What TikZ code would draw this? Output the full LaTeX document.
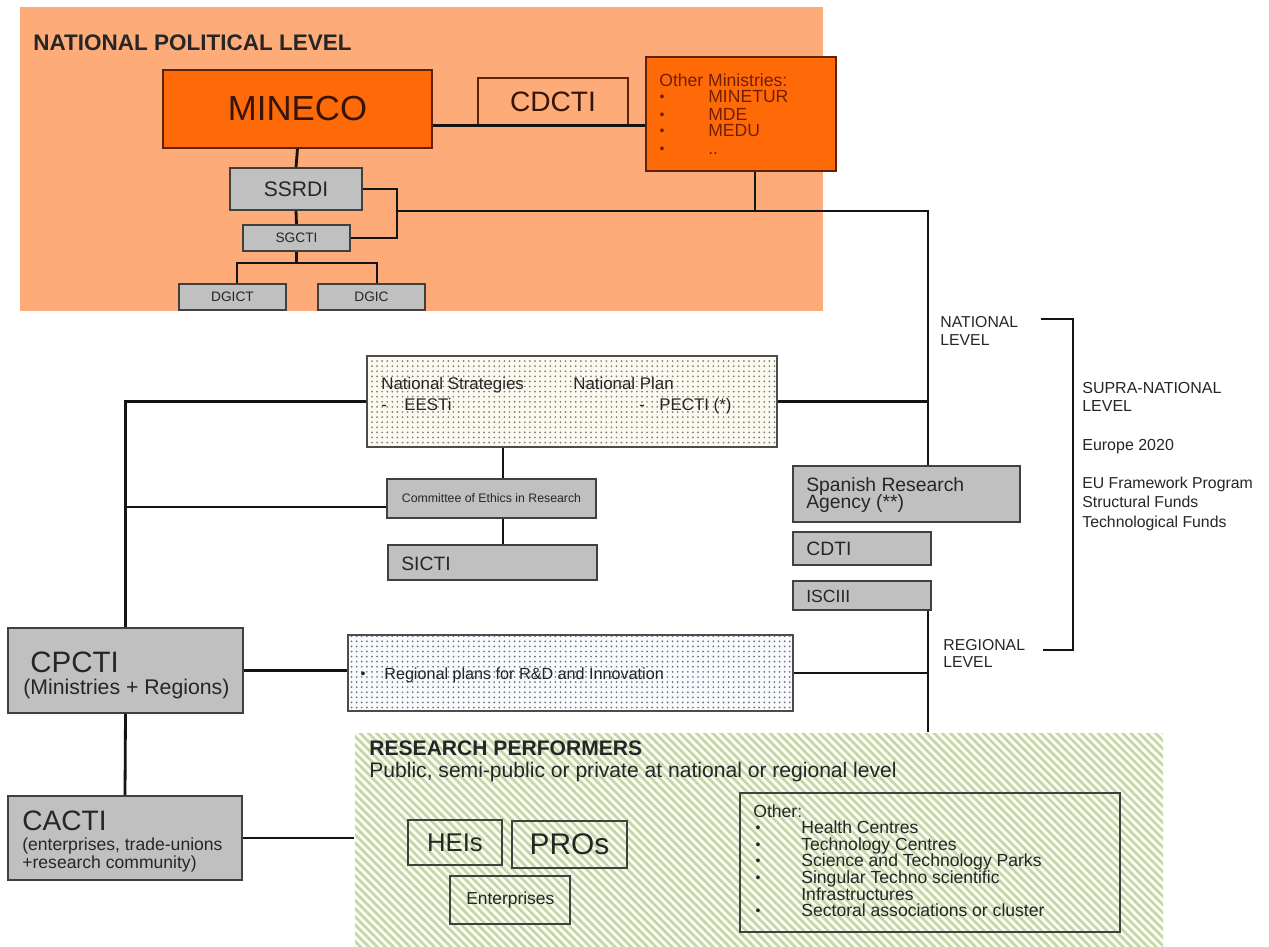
\documentclass[tikz,border=0pt]{standalone}
\usepackage{fontspec}
\setmainfont{Liberation Sans}
\usetikzlibrary{fit,calc,patterns,patterns.meta}
\definecolor{bgorange}{RGB}{252,171,121}
\definecolor{orangeD}{RGB}{255,106,8}
\definecolor{obord}{RGB}{95,35,10}
\definecolor{boxgray}{RGB}{192,192,192}
\definecolor{darkred}{RGB}{115,30,0}
\definecolor{minetxt}{RGB}{55,20,8}
\definecolor{txt}{RGB}{38,38,38}
\definecolor{beige}{RGB}{251,249,240}
\definecolor{dotgray}{RGB}{125,125,115}
\definecolor{dotblue}{RGB}{105,110,125}
\definecolor{paleblue}{RGB}{248,250,253}
\definecolor{hatchgreen}{RGB}{196,214,164}
\definecolor{palegreen}{RGB}{251,252,246}
\newcommand{\myfs}[2]{\fontsize{#1pt}{#2pt}\selectfont}
\begin{document}
\begin{tikzpicture}[x=0.02cm,y=-0.02cm,
  conn/.style={line width=1.6pt, draw=black!92},
  gbox/.style={inner sep=0pt, draw=black!75, line width=0.9pt, fill=boxgray},
  obox/.style={inner sep=0pt, draw=obord, line width=0.8pt, fill=orangeD},
  wbox/.style={inner sep=0pt, draw=black!75, line width=1pt},
  txtn/.style={inner sep=0pt, anchor=base west, text=txt},
  ctext/.style={inner sep=0pt, anchor=center, text=txt},
  bul/.style={inner sep=0pt, text=txt, font=\myfs{8}{8}},
]
\useasboundingbox (0,0) rectangle (1269,947);
\fill[white] (0,0) rectangle (1269,947);

% ---------- national political level ----------
\node[inner sep=0pt, fill=bgorange, fit={(20,7) (823,311)}] (npl) {};
\node[txtn, font=\bfseries\myfs{12.8}{14}] (npltitle) at (33,50) {NATIONAL POLITICAL LEVEL};
\node[obox, fit={(163,70) (432,148)}] (mineco) {};
\node[ctext, text=minetxt, font=\myfs{19.8}{22}] (minecot) at (mineco.center) {MINECO};
\node[obox, fill=bgorange, fit={(478,78) (628,125)}] (cdcti) {};
\node[ctext, text=minetxt, font=\myfs{16}{18}] (cdctit) at (cdcti.center) {CDCTI};
\node[obox, fit={(646,57) (836,171)}] (othm) {};
\node[txtn, text=darkred, font=\myfs{10}{12}] (om0) at (659,86) {Other Ministries:};
\foreach \n/\y/\s in {1/102/MINETUR, 2/120/MDE, 3/136/MEDU, 4/154/..} {
  \node[bul, text=darkred] (omb\n) at (662,\y-4) {\textbullet};
  \node[txtn, text=darkred, font=\myfs{10}{12}] (om\n) at (708,\y) {\s};
}
\node[gbox, fit={(230,168) (362,210)}] (ssrdi) {};
\node[ctext, font=\myfs{12}{14}] (ssrdit) at (ssrdi.center) {SSRDI};
\node[gbox, fit={(243,225) (350,251)}] (sgcti) {};
\node[ctext, font=\myfs{7.8}{9}] (sgctit) at (sgcti.center) {SGCTI};
\node[gbox, fit={(179,284) (286,310)}] (dgict) {};
\node[ctext, font=\myfs{7.8}{9}] (dgictt) at (dgict.center) {DGICT};
\node[gbox, fit={(318,284) (425,310)}] (dgic) {};
\node[ctext, font=\myfs{7.8}{9}] (dgict2) at (dgic.center) {DGIC};

% ---------- national strategies ----------
\node[inner sep=0pt, draw=black!70, line width=0.9pt, preaction={fill=beige},
      pattern={Dots[distance=2.9pt, radius=0.55pt]}, pattern color=dotgray,
      fit={(367,356) (777,447)}] (nat) {};
\node[txtn, font=\myfs{9.6}{11}] (nat1) at (381,389) {National Strategies};
\node[txtn, font=\myfs{9.6}{11}] (nat2) at (381,410) {-};
\node[txtn, font=\myfs{9.6}{11}] (nat3) at (404,410) {EESTi};
\node[txtn, font=\myfs{9.6}{11}] (nat4) at (573,389) {National Plan};
\node[txtn, font=\myfs{9.6}{11}] (nat5) at (639,410) {-};
\node[txtn, font=\myfs{9.6}{11}] (nat6) at (659,410) {PECTI (*)};

\node[gbox, fit={(387,479) (596,518)}] (comm) {};
\node[ctext, font=\myfs{7}{8}] (commt) at (comm.center) {Committee of Ethics in Research};
\node[gbox, fit={(388,545) (597,580)}] (sicti) {};
\node[txtn, font=\myfs{11}{12}] (sictit) at (401,570) {SICTI};

\node[gbox, fit={(793,466) (1020,522)}] (sra) {};
\node[txtn, font=\myfs{11}{12}] (sra1) at (806,491) {Spanish Research};
\node[txtn, font=\myfs{11}{12}] (sra2) at (806,508) {Agency (**)};
\node[gbox, fit={(793,532) (931,565)}] (cdti) {};
\node[txtn, font=\myfs{11}{12}] (cdtit) at (806,555) {CDTI};
\node[gbox, fit={(793,581) (931,610)}] (isciii) {};
\node[txtn, font=\myfs{10}{12}] (isciiit) at (806,602) {ISCIII};

% ---------- regional ----------
\node[inner sep=0pt, draw=black!70, line width=0.9pt, preaction={fill=paleblue},
      pattern={Dots[distance=2.9pt, radius=0.55pt]}, pattern color=dotblue,
      fit={(348,635) (793,711)}] (reg) {};
\node[bul] (regb) at (363,675) {\textbullet};
\node[txtn, font=\myfs{9.2}{11}] (regt) at (384,679) {Regional plans for R\&D and Innovation};

\node[gbox, fit={(8,628) (243,713)}] (cpcti) {};
\node[txtn, font=\myfs{16.8}{18}] (cpcti1) at (30,672) {CPCTI};
\node[txtn, font=\myfs{12.1}{14}] (cpcti2) at (23,694) {(Ministries + Regions)};

\node[gbox, fit={(8,796) (242,880)}] (cacti) {};
\node[txtn, font=\myfs{16}{18}] (cacti1) at (22,830) {CACTI};
\node[inner sep=0pt, anchor=north west, text=txt, align=left, font=\myfs{10}{8.6}] (cacti2) at (22,837) {(enterprises, trade-unions\\+research community)};

% ---------- research performers ----------
\node[inner sep=0pt, preaction={fill=palegreen},
      pattern={Lines[angle=-45, distance=3.3pt, line width=1.5pt]}, pattern color=hatchgreen,
      fit={(355,733) (1163,947)}] (rp) {};
\node[txtn, font=\bfseries\myfs{12}{14}] (rp1) at (369,755) {RESEARCH PERFORMERS};
\node[txtn, font=\myfs{12}{14}] (rp2) at (369,777) {Public, semi-public or private at national or regional level};
\node[wbox, fit={(408,820) (502,865)}] (heis) {};
\node[ctext, font=\myfs{14.6}{16}] (heist) at (heis.center) {HEIs};
\node[wbox, fit={(512,821) (627,868)}] (pros) {};
\node[ctext, font=\myfs{17}{19}] (prost) at (pros.center) {PROs};
\node[wbox, fit={(450,876) (570,924)}] (ent) {};
\node[txtn, font=\myfs{9.9}{12}] (entt) at (466,904) {Enterprises};
\node[wbox, fit={(740,793) (1120,932)}] (oth) {};
\node[txtn, font=\myfs{10}{12}] (oth0) at (753,817) {Other:};
\foreach \n/\y/\s in {1/833/Health Centres, 2/850/Technology Centres, 3/866/Science and Technology Parks, 4/883/Singular Techno scientific, 6/916/Sectoral associations or cluster} {
  \node[bul] (othb\n) at (758,\y-4) {\textbullet};
  \node[txtn, font=\myfs{10}{12}] (oth\n) at (801,\y) {\s};
}
\node[txtn, font=\myfs{10}{12}] (oth5) at (801,900) {Infrastructures};

% ---------- right side ----------
\node[txtn, font=\myfs{9}{10}] (nl1) at (940,327) {NATIONAL};
\node[txtn, font=\myfs{9}{10}] (nl2) at (940,345) {LEVEL};
\node[txtn, font=\myfs{9}{10}] (rl1) at (943,650) {REGIONAL};
\node[txtn, font=\myfs{9}{10}] (rl2) at (943,667) {LEVEL};
\node[txtn, font=\myfs{9.1}{10}] (sn1) at (1082,393) {SUPRA-NATIONAL};
\node[txtn, font=\myfs{9.1}{10}] (sn2) at (1082,411) {LEVEL};
\node[txtn, font=\myfs{9.1}{12}] (eu0) at (1082,450) {Europe 2020};
\node[txtn, font=\myfs{9}{12}] (eu1) at (1082,488) {EU Framework Program};
\node[txtn, font=\myfs{9}{12}] (eu2) at (1082,507) {Structural Funds};
\node[txtn, font=\myfs{9}{12}] (eu3) at (1082,527) {Technological Funds};

% ---------- connectors ----------
\coordinate (j1) at (397,211);
\coordinate (j2) at (928,211);
\coordinate (omd) at (755,211);
\coordinate (k2) at (237,263);
\coordinate (k3) at (377,263);
\coordinate (c1) at (503,0);
\coordinate (c2) at (125,507);
\draw[conn] (mineco.east |- cdcti.south) -- (othm.west |- cdcti.south);
\draw[conn] (mineco.south) -- (ssrdi.north);
\draw[conn] (ssrdi.south) -- (sgcti.north);
\draw[conn] (ssrdi.east) -| (j1) |- (sgcti.east);
\draw[conn] (j1) -- (j2) -- (j2 |- sra.north);
\draw[conn] (omd |- othm.south) -- (omd);
\draw[conn] (sgcti.south) -- (sgcti.south |- k2);
\draw[conn] (k2 |- dgict.north) -- (k2) -- (k3) -- (k3 |- dgic.north);
\draw[conn] (nat.east) -- (nat.east -| j2);
\draw[conn] (nat.west) -- (nat.west -| cpcti.north) -- (cpcti.north);
\draw[conn] (nat.south -| c1) -- (comm.north -| c1);
\draw[conn] (comm.south -| c1) -- (sicti.north -| c1);
\draw[conn] (c2 -| comm.west) -- (c2);
\draw[conn] (cpcti.east) -- (cpcti.east -| reg.west);
\draw[conn] (reg.east) -- (reg.east -| j2);
\draw[conn] (isciii.south -| j2) -- (rp.north -| j2);
\draw[conn] (cpcti.south) -- (cacti.north);
\draw[conn] (cacti.east) -- (cacti.east -| rp.west);
\coordinate (b1) at (1041,319);
\coordinate (b2) at (1073,319);
\coordinate (b3) at (1073,650);
\coordinate (b4) at (1043,650);
\draw[conn] (b1) -- (b2) -- (b3) -- (b4);
\end{tikzpicture}
\end{document}
